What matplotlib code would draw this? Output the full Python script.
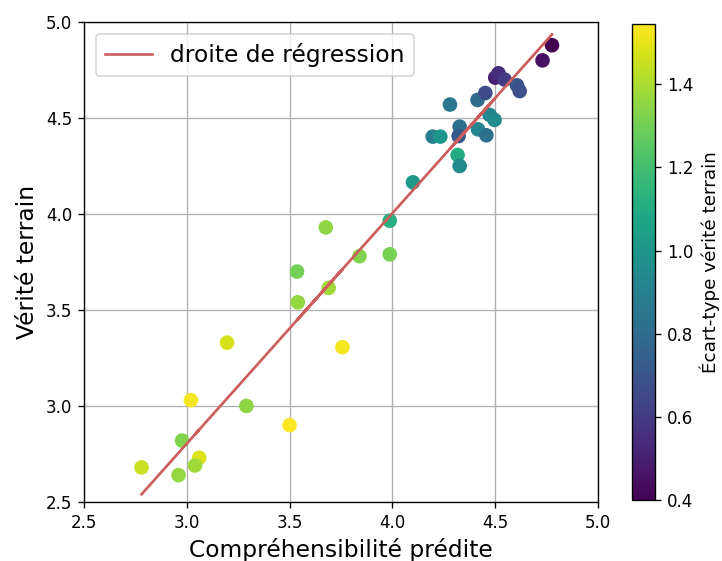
import numpy as np
import matplotlib
matplotlib.use("Agg")
import matplotlib.pyplot as plt

# predicted comprehensibility, ground truth and its std
predite = [2.78, 2.96, 2.977, 3.02, 3.06, 3.04, 3.196, 3.29, 3.50, 3.757,
           3.536, 3.54, 3.676, 3.69, 3.84, 3.987, 3.987, 4.10, 4.196, 4.233,
           4.317, 4.327, 4.327, 4.322, 4.416, 4.457, 4.28, 4.473, 4.497,
           4.414, 4.452, 4.50, 4.516, 4.546, 4.606, 4.619, 4.73, 4.776]
verite = [2.68, 2.64, 2.82, 3.03, 2.73, 2.69, 3.33, 3.00, 2.90, 3.306,
          3.70, 3.54, 3.93, 3.615, 3.78, 3.79, 3.965, 4.165, 4.403, 4.403,
          4.307, 4.25, 4.455, 4.406, 4.441, 4.41, 4.57, 4.516, 4.49,
          4.594, 4.63, 4.71, 4.733, 4.70, 4.67, 4.64, 4.80, 4.879]
ecart_type = [1.45, 1.36, 1.33, 1.53, 1.48, 1.38, 1.47, 1.35, 1.545, 1.53,
              1.30, 1.36, 1.35, 1.38, 1.33, 1.31, 1.12, 1.02, 0.88, 1.0,
              1.1, 0.95, 0.82, 0.72, 0.92, 0.82, 0.85, 0.92, 0.95,
              0.8, 0.66, 0.5, 0.55, 0.6, 0.7, 0.68, 0.45, 0.4]

# regression line
pente = 1.2
ordonnee = -0.796

x = np.array(predite)
y = np.array(verite)

fig = plt.figure(figsize=(722 / 120, 561 / 120), dpi=120)
ax = fig.add_axes([0.1163, 0.1052, 0.7120, 0.8556])
cax = fig.add_axes([0.8753, 0.1088, 0.0319, 0.8485])

sc = ax.scatter(x, y, c=ecart_type, cmap="viridis", s=60, zorder=2)
ax.plot(x, pente * x + ordonnee, color="indianred", linewidth=1.6,
        label="droite de régression", zorder=3)

ax.set_xlim(2.5, 5.0)
ax.set_ylim(2.5, 5.0)
ax.set_xlabel("Compréhensibilité prédite", fontsize=14)
ax.set_ylabel("Vérité terrain", fontsize=14)
ax.grid(True, zorder=0)
ax.set_axisbelow(True)
ax.legend(loc="upper left", fontsize=14)

cb = fig.colorbar(sc, cax=cax)
cb.set_label("Écart-type vérité terrain", fontsize=11)

fig.savefig("out.png", dpi=120)
